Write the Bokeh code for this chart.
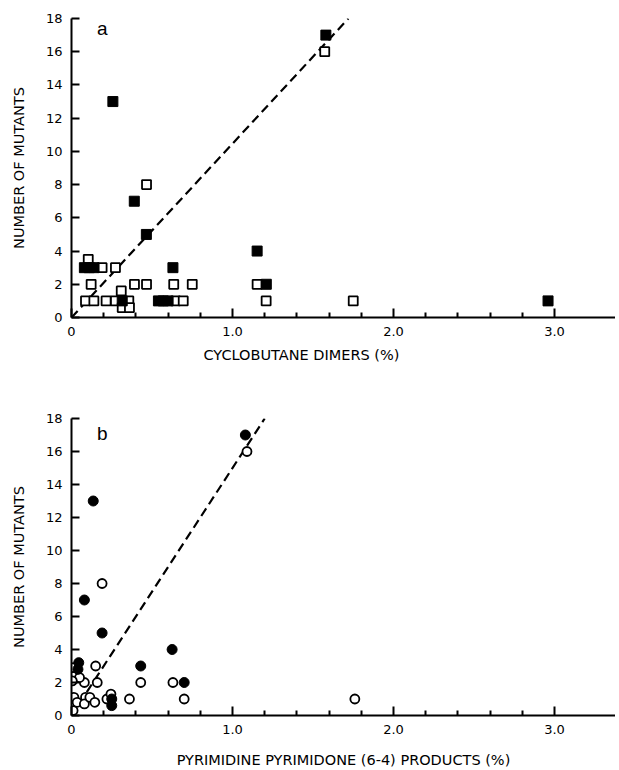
from bokeh.plotting import figure
from bokeh.layouts import column
from bokeh.models import FixedTicker, Range1d, Label, Title
from bokeh.embed import file_html
from bokeh.resources import INLINE

# ---------------- data ----------------
# Panel a: cyclobutane dimers (%) vs number of mutants
a_open_x = [1.573, 0.466, 0.104, 0.19, 0.273, 0.122, 0.391, 0.466, 0.635, 0.75,
            1.153, 0.087, 0.139, 0.215, 0.273, 0.309, 0.356, 0.315, 0.36, 0.646,
            0.694, 1.209, 1.75]
a_open_y = [16, 8, 3.5, 3, 3, 2, 2, 2, 2, 2,
            2, 1, 1, 1, 1, 1.6, 1, 0.6, 0.6, 1,
            1, 1, 1]
a_fill_x = [1.58, 0.257, 0.39, 0.465, 0.63, 1.153, 1.21, 0.08, 0.11, 0.14,
            0.54, 0.57, 0.60, 0.315, 2.96]
a_fill_y = [17, 13, 7, 5, 3, 4, 2, 3, 3, 3,
            1, 1, 1, 1, 1]
a_fit_x = [0, 1.72]
a_fit_y = [0, 18]

# Panel b: pyrimidine pyrimidone (6-4) products (%) vs number of mutants
b_open_x = [1.09, 0.19, 0.15, 0.16, 0.08, 0.05, 0.01, 0.005, 0.43, 0.63,
            0.70, 0.36, 0.22, 0.245, 0.015, 0.035, 0.087, 0.08, 0.114, 0.145,
            0.01, 1.76]
b_open_y = [16, 8, 3, 2, 2, 2.3, 2.9, 2.1, 2, 2,
            1, 1, 1, 1.3, 1.1, 0.8, 1.1, 0.7, 1.1, 0.8,
            0.3, 1]
b_fill_x = [1.08, 0.135, 0.08, 0.19, 0.625, 0.43, 0.70, 0.045, 0.04, 0.25, 0.25]
b_fill_y = [17, 13, 7, 5, 4, 3, 2, 3.2, 2.8, 1.0, 0.6]
b_fit_x = [0, 1.2]
b_fit_y = [0, 18]

x_major = [0, 1, 2, 3]
x_minor = [0.2, 0.4, 0.6, 0.8, 1.2, 1.4, 1.6, 1.8, 2.2, 2.4, 2.6, 2.8]
x_labels = {0: "0", 1: "1.0", 2: "2.0", 3: "3.0"}
y_major = [0, 2, 4, 6, 8, 10, 12, 14, 16, 18]
y_title = "NUMBER OF MUTANTS"
a_title = "CYCLOBUTANE DIMERS (%)"
b_title = "PYRIMIDINE PYRIMIDONE (6-4) PRODUCTS (%)"

FONT = "DejaVu Sans"
LFONT = "Liberation Sans"


def make_fig(height, top, bottom, letter, letter_y):
    p = figure(width=615, height=height, output_backend="svg", toolbar_location=None,
               x_range=Range1d(0, 3.379), y_range=Range1d(0, 18),
               min_border_left=71, min_border_right=0,
               min_border_top=top, min_border_bottom=bottom)
    p.outline_line_color = None
    p.grid.visible = False
    p.background_fill_color = "white"
    p.border_fill_color = "white"

    xa = p.xaxis[0]
    xa.ticker = FixedTicker(ticks=x_major, minor_ticks=x_minor)
    xa.major_label_overrides = x_labels
    xa.major_label_text_font = FONT
    xa.major_label_text_font_size = "13px"
    xa.major_label_standoff = 9

    ya = p.yaxis[0]
    ya.ticker = FixedTicker(ticks=y_major, minor_ticks=[])
    ya.axis_label = y_title
    ya.axis_label_text_font = FONT
    ya.axis_label_text_font_style = "normal"
    ya.axis_label_text_font_size = "14.5px"
    ya.axis_label_standoff = 16
    ya.major_label_text_font = FONT
    ya.major_label_text_font_size = "13px"
    ya.major_label_standoff = 9
    ya.major_label_orientation = "horizontal"

    for ax in (xa, ya):
        ax.axis_line_width = 2
        ax.axis_line_color = "black"
        ax.major_tick_line_width = 2
        ax.minor_tick_line_width = 2
        ax.major_tick_out = 0
        ax.minor_tick_out = 0
        ax.major_label_text_color = "black"
        ax.axis_label_text_color = "black"
    xa.major_tick_in = 9
    xa.minor_tick_in = 5
    ya.major_tick_in = 8

    p.add_layout(Label(x=0.158, y=letter_y, text=letter, text_font=LFONT,
                       text_font_size="19px", text_color="black",
                       text_baseline="alphabetic"))
    return p


fa = make_fig(383, 18, 66, "a", 17.4)
fa.add_layout(Title(text=a_title, align="left", offset=132, standoff=13,
                    text_font=FONT, text_font_size="14.5px",
                    text_font_style="normal", text_color="black"), "below")
fa.line(a_fit_x, a_fit_y, line_color="black", line_width=2.2, line_dash="9 5")
fa.scatter(a_open_x, a_open_y, marker="square", size=9, fill_color="white",
           line_color="black", line_width=1.8)
fa.scatter(a_fill_x, a_fill_y, marker="square", size=10, fill_color="black",
           line_color="black", line_width=1)

fb = make_fig(387, 35, 55, "b", 17.1)
fb.xaxis[0].axis_label = b_title
fb.xaxis[0].axis_label_text_font = FONT
fb.xaxis[0].axis_label_text_font_style = "normal"
fb.xaxis[0].axis_label_text_font_size = "14.5px"
fb.xaxis[0].axis_label_standoff = 15
fb.line(b_fit_x, b_fit_y, line_color="black", line_width=2.2, line_dash="9 5")
fb.scatter(b_open_x, b_open_y, marker="circle", size=9, fill_color="white",
           line_color="black", line_width=1.8)
fb.scatter(b_fill_x, b_fill_y, marker="circle", size=10, fill_color="black",
           line_color="black", line_width=1)

layout = column(fa, fb)
open("out.html", "w").write(file_html(layout, INLINE))
